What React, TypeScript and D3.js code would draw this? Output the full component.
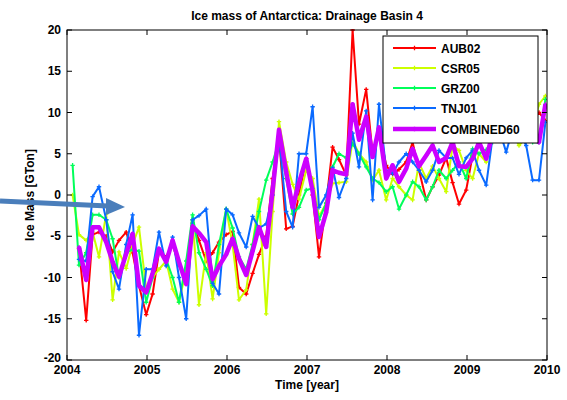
import React from "react";
import * as d3 from "d3";

const months: number[] = [
  2004.07, 2004.15, 2004.24, 2004.32, 2004.40, 2004.49, 2004.57, 2004.65, 2004.74, 2004.82, 2004.90, 2004.99,
  2005.07, 2005.15, 2005.24, 2005.32, 2005.40, 2005.49, 2005.57, 2005.65, 2005.74, 2005.82, 2005.90, 2005.99,
  2006.07, 2006.15, 2006.24, 2006.32, 2006.40, 2006.49, 2006.57, 2006.65, 2006.74, 2006.82, 2006.90, 2006.99,
  2007.07, 2007.15, 2007.24, 2007.32, 2007.40, 2007.49, 2007.57, 2007.65, 2007.74, 2007.82, 2007.90, 2007.99,
  2008.07, 2008.15, 2008.24, 2008.32, 2008.40, 2008.49, 2008.57, 2008.65, 2008.74, 2008.82, 2008.90, 2008.99,
  2009.07, 2009.15, 2009.24, 2009.32, 2009.40, 2009.49, 2009.57, 2009.65, 2009.74, 2009.82, 2009.90, 2009.98,
];

const AUB02: (number | null)[] = [
  null, -6.5, -15.2, -4.8, -4.5, -5.0, -6.9, -5.5, -4.5, -7.0, -11, -14.5,
  -12, -6.9, -7.5, -6.0, -8.5, -10.5, -3.4, -5.5, -8, -7, -5.7, -4.8,
  -4.4, -11.2, -12, -9.5, -7.2, -5, 2, 7, -4.1, -3.8, 0, 4.4,
  0, -7.5, -1, 5.8, 4.3, 2.4, 20, 8.6, 12.8, 5, 8, 3.6,
  2.5, 3.1, 4, 6.4, 3, -0.6, 1, 2.4, 4.5, 1.5, -1.1, 0.6,
  4.8, 6.5, 7, 8, 8, 8.5, 8, 8, 8.5, 9, 10, 9,
];

const CSR05: (number | null)[] = [
  0, -4.8, -5.5, -4.5, -7.5, -2.3, -12.7, -6.9, -8.9, -6, -3.9, -11.4,
  -10, -9, -8, -11.4, -13, -9, -3, -13.3, -7, -12.6, -7, -1.7,
  -6, -12.7, -11.5, -6, -0.5, -14.4, -2, 8.9, 4, 1.3, -0.5, 3,
  2, -2.6, -1, 1.4, 1.5, 1.6, 6.6, 5, 4, 1.8, 3, -0.6,
  2, 1, 0, -0.6, 3.9, 2, 3.5, 2, 0.4, 6, 5.4, 3,
  2, 5, 4, 7, 8, 8, 7.5, 6, 7, 8, 11, 12,
];

const GRZ00: (number | null)[] = [
  3.6, -8.5, -7, -2.4, -2.4, -3, -5.3, -10, -7, -6.6, -6.8, -13,
  -10, -6.6, -7.8, -10, -13, -8, -2.4, -7, -9, -11, -6, -1.7,
  -4, -7.5, -9, -6, -2, 1.8, 4, 6.5, 2, -2.3, -1.5, 0.6,
  0.8, -3, -1, 3.4, 5, 4.5, 6.2, 5, 3.4, 2, 1.5, 0.4,
  1, -1.7, 0, 1.6, 1, -0.6, 1, 3, 2, 3, 4, 2,
  5.6, 5, 5.5, 6.4, 8, 8, 8, 8, 8, 6.4, 6.4, 11.6,
];

const TNJ01: (number | null)[] = [
  null, -7.8, -8, -0.2, 1, -3, -9.3, -11.4, -6, -2.4, -17, -9,
  -9, -4.5, -8.6, -5.1, -10, -15, -3, -2.5, -1.7, -10.7, -12, -1.7,
  -2.4, -4.6, -6.3, -2.6, -4, -3.5, 0, 7, -2, -3.9, 5, 5,
  10.7, -1.5, 0, 3.3, -0.3, 2, 7.5, 3.4, 10.2, -0.6, 11, 3,
  2.6, 4, 5, 4, 3, 1.6, 3, 5.4, 4.5, 4.5, 2.5, 4.5,
  5.4, 3, 1.2, 7, 8, 5.2, 8, 8, 6, 1.8, 1.8, 8.8,
];

const COMBINED60: (number | null)[] = [
  null, -6.3, -10.3, -3.9, -3.9, -5.7, -8.1, -9.9, -7.1, -4.7, -11, -11.8,
  -9.5, -6.5, -8.1, -5.5, -8.1, -10.8, -3.8, -4.6, -5.7, -10.2, -8.6, -7.2,
  -5.3, -7.7, -9.7, -6.8, -3.9, -6.3, 0.5, 7.9, 2.8, -1.5, 1.5, 4.4,
  0.5, -5.1, -2.1, 3.0, 2.7, 2.5, 11.0, 6.7, 9.5, 4.6, 8.2, 2.0,
  3.6, 1.6, 3.2, 5.6, 3.5, 4.8, 6.0, 4.0, 4.5, 6.4, 3.5, 3.4,
  4.4, 6.4, 4.4, 7.5, 8, 8, 8, 8, 7.5, 7, 6.4, 11,
];

const seriesNames = ["AUB02", "CSR05", "GRZ00", "TNJ01", "COMBINED60"];
const seriesColors = ["#ff0000", "#ccff00", "#00ff5a", "#0a6aff", "#cc00ff"];
const seriesData = [AUB02, CSR05, GRZ00, TNJ01, COMBINED60];

const xTicks = [2004, 2005, 2006, 2007, 2008, 2009, 2010];
const yTicks = [-20, -15, -10, -5, 0, 5, 10, 15, 20];

const L = 67, R = 547, T = 30, B = 360;
const FONT = "'Liberation Sans', Arial, Helvetica, sans-serif";

export default function App() {
  const x = d3.scaleLinear().domain([2004, 2010]).range([L, R]);
  const y = d3.scaleLinear().domain([-20, 20]).range([B, T]);
  const line = d3
    .line<[number, number | null]>()
    .defined((d) => d[1] != null)
    .x((d) => x(d[0]))
    .y((d) => y(d[1] as number));

  const tk = 5;
  const plus = (cx: number, cy: number, s: number, color: string, key: string) => (
    <path key={key} d={`M${cx - s},${cy}H${cx + s}M${cx},${cy - s}V${cy + s}`} stroke={color} strokeWidth={1.3} fill="none" />
  );

  const legendItems = seriesNames.map((n, i) => ({ n, c: seriesColors[i], y: [48, 68, 88, 108, 129][i] }));

  return (
    <svg width={567} height={400} style={{ position: "absolute", left: 0, top: 0, background: "#fff" }} fontFamily={FONT}>
      <defs>
        <clipPath id="plotclip">
          <rect x={L} y={T - 1} width={R - L} height={B - T + 2} />
        </clipPath>
      </defs>
      <rect x={0} y={0} width={567} height={400} fill="#fff" />
      <g clipPath="url(#plotclip)">
        {seriesData.map((s, si) => {
          const pts = months.map((m, i) => [m, s[i]] as [number, number | null]);
          const isComb = si === 4;
          return (
            <g key={si}>
              <path d={line(pts) || ""} fill="none" stroke={seriesColors[si]} strokeWidth={isComb ? 4.5 : 2} strokeLinejoin="round" />
              {pts.filter((p) => p[1] != null).map((p, j) =>
                plus(x(p[0]), y(p[1] as number), isComb ? 2 : 2.2, seriesColors[si], `m${si}-${j}`)
              )}
            </g>
          );
        })}
      </g>
      <rect x={L} y={T} width={R - L} height={B - T} fill="none" stroke="#000" strokeWidth={1} />
      {xTicks.map((t) => (
        <g key={`xt${t}`}>
          <line x1={x(t)} x2={x(t)} y1={B} y2={B - tk} stroke="#000" />
          <line x1={x(t)} x2={x(t)} y1={T} y2={T + tk} stroke="#000" />
          <text x={x(t)} y={B + 14} textAnchor="middle" fontSize={12} fontWeight="bold">{t}</text>
        </g>
      ))}
      {yTicks.map((t) => (
        <g key={`yt${t}`}>
          <line x1={L} x2={L + tk} y1={y(t)} y2={y(t)} stroke="#000" />
          <line x1={R} x2={R - tk} y1={y(t)} y2={y(t)} stroke="#000" />
          <text x={L - 6} y={y(t) + (t === -20 ? 2 : 4)} textAnchor="end" fontSize={12} fontWeight="bold">{t}</text>
        </g>
      ))}
      <text x={(L + R) / 2} y={20} textAnchor="middle" fontSize={12} fontWeight="bold">Ice mass of Antarctica: Drainage Basin 4</text>
      <text x={(L + R) / 2} y={389} textAnchor="middle" fontSize={12} fontWeight="bold">Time [year]</text>
      <text transform={`translate(34,${(T + B) / 2}) rotate(-90)`} textAnchor="middle" fontSize={12} fontWeight="bold">Ice Mass [GTon]</text>
      <rect x={383} y={36} width={155} height={107} fill="#fff" stroke="#000" strokeWidth={1} />
      {legendItems.map((it, i) => (
        <g key={`lg${i}`}>
          <line x1={393} x2={436} y1={it.y} y2={it.y} stroke={it.c} strokeWidth={i === 4 ? 4.5 : 2} />
          {plus(414.5, it.y, 2.2, it.c, `lp${i}`)}
          <text x={441} y={it.y + 4.5} fontSize={12} fontWeight="bold">{it.n}</text>
        </g>
      ))}
      <line x1={0} y1={201} x2={108} y2={206} stroke="#4a7ebb" strokeWidth={5} />
      <path d="M106,198 L125,207 L106,215 Z" fill="#4a7ebb" />
    </svg>
  );
}
